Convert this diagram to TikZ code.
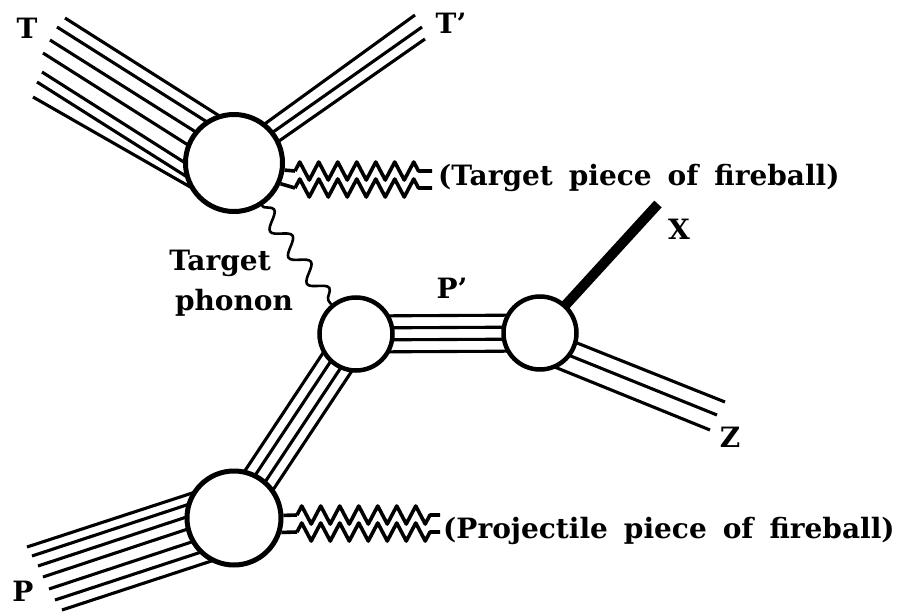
\documentclass[tikz,border=0pt]{standalone}
\usepackage{fontspec}
\setmainfont{DejaVu Serif}
\usepackage{tikz}
\usetikzlibrary{calc,backgrounds,decorations.pathmorphing}

\tikzset{
  blob/.style={circle, draw, fill=white, line width=5pt, inner sep=0pt},
  strand/.style={line width=3.1pt},
  heavy/.style={line width=10pt},
  wiggle/.style={line width=3.6pt, line join=round,
    decoration={zigzag, segment length=19pt, amplitude=9pt}},
  phonon/.style={line width=2.6pt, decorate,
    decoration={snake, segment length=32pt, amplitude=8pt}},
  lbl/.style={font=\fontsize{28}{34}\selectfont\bfseries, inner sep=0pt},
  fire/.style={lbl, anchor=west, execute at begin node={\spaceskip=16pt\relax}}
}

\begin{document}
\begin{tikzpicture}[x=1pt,y=-1pt]
    \useasboundingbox (0,0) rectangle (903,613);

    % the four vertices
    \node[blob, minimum size=97pt] (tgt) at (234,163) {};
    \node[blob, minimum size=94pt] (proj) at (234,518) {};
    \node[blob, minimum size=73pt, line width=4.5pt] (mid) at (356,334) {};
    \node[blob, minimum size=73pt, line width=4.5pt] (dec) at (540,333) {};

    \coordinate (xend) at (658,204);

    \begin{scope}[on background layer]
        % incoming target
        \foreach \sx/\sy/\ex/\ey [count=\i] in {65/18/17/-27, 57/27/11/-17, 50/40/3/-5, 43/53/-5/8, 42/72/-14/22, 37/82/-20/31, 33/97/-42/25}
            \draw[strand] (\sx,\sy) coordinate (t\i) -- ($(tgt.center)+(\ex,\ey)$);
        % outgoing target
        \foreach \sx/\sy/\ex/\ey [count=\i] in {415/15/-8/-11, 422/27/-2/-2, 425/39/5/6}
            \draw[strand] (\sx,\sy) coordinate (tp\i) -- ($(tgt.center)+(\ex,\ey)$);
        % incoming projectile
        \foreach \sx/\sy/\ex/\ey [count=\i] in {27/547/-11/-35, 32/556/-8/-26, 38/566/-5/-15, 43/577/-1/-4, 49/589/3/9, 55/600/7/21, 62/610/11/32}
            \draw[strand] (\sx,\sy) coordinate (p\i) -- ($(proj.center)+(\ex,\ey)$);
        % projectile up to the middle vertex
        \foreach \o in {-17,-6,6,17}
            \draw[strand] ($(proj.center)!\o pt!90:(mid.center)$) -- ($(mid.center)!\o pt!-90:(proj.center)$);
        % P'
        \foreach \o in {-18,-6,6,18}
            \draw[strand] ($(mid.center)!\o pt!90:(dec.center)$) -- ($(dec.center)!\o pt!-90:(mid.center)$);
        % Z
        \foreach \sx/\sy/\ex/\ey [count=\i] in {725/402/2/-4, 717/415/-4/9, 710/430/-10/24}
            \draw[strand] (\sx,\sy) coordinate (z\i) -- ($(dec.center)+(\ex,\ey)$);
        % X
        \draw[heavy] (dec.center) -- (xend);
    \end{scope}

    % fireball pieces
    \draw[wiggle] (tgt.-8) -- (295,171) decorate{(295,171) -- (425,171)} -- (432,171);
    \draw[wiggle] (tgt.-24) -- (295,188) decorate{(295,188) -- (425,188)} -- (432,188);
    \draw[wiggle] (proj.3) -- (297,515) decorate{(297,515) -- (432,515)} -- (440,515);
    \draw[wiggle] (proj.-17) -- (297,532) decorate{(297,532) -- (432,532)} -- (440,532);

    % phonon exchange
    \draw[phonon] (tgt.-57) -- (mid.130);

    \node[fire] (tfire) at (438,178) {(Target piece of fireball)};
    \node[fire] (pfire) at (443,531) {(Projectile piece of fireball)};
    \node[lbl] (tin) at (27,28) {T};
    \node[lbl] (tout) at (451,23) {T’};
    \node[lbl] (pp) at (452,288) {P’};
    \node[lbl] (xl) at (679,229) {X};
    \node[lbl] (zl) at (730,437) {Z};
    \node[lbl] (pin) at (23,591) {P};
    \node[lbl, anchor=base] (ph1) at (220,270) {Target};
    \node[lbl, anchor=base] (ph2) at (234,310) {phonon};
\end{tikzpicture}
\end{document}
